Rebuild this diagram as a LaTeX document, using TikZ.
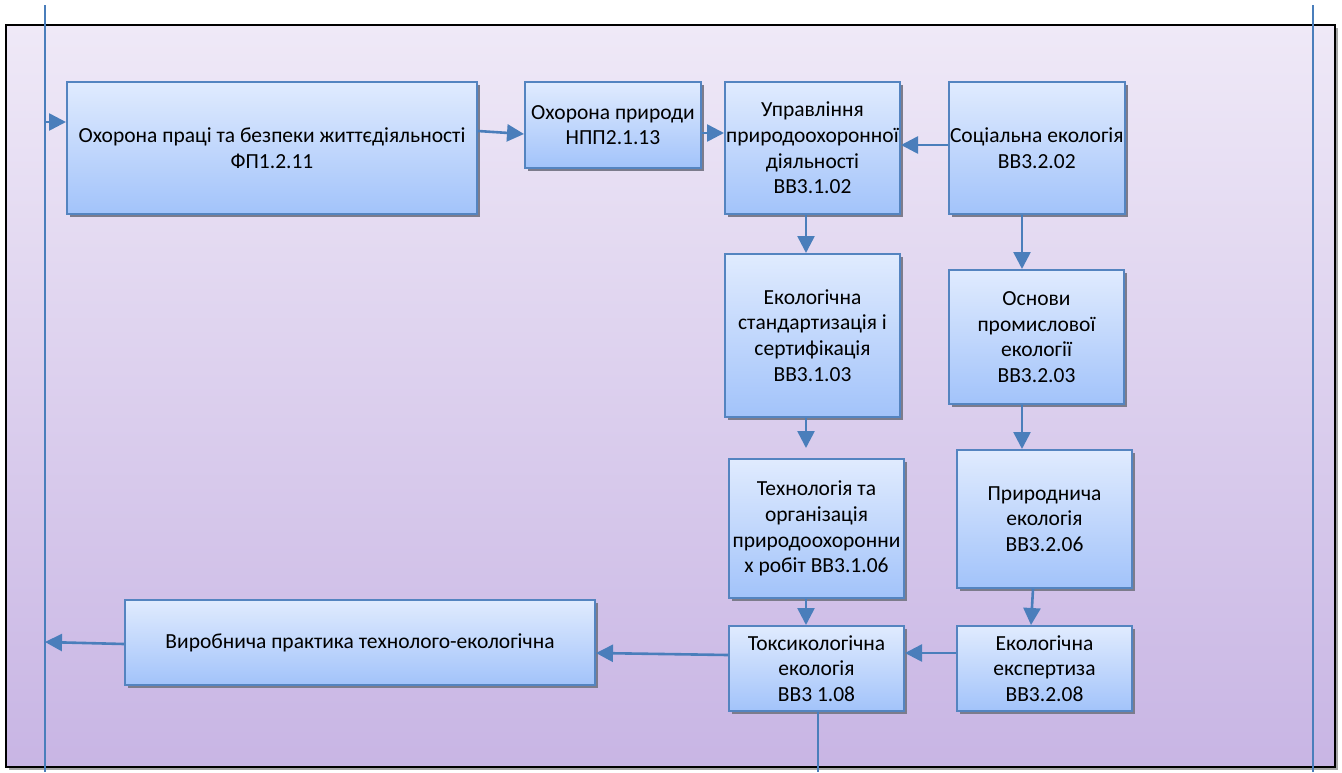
\documentclass[tikz,border=0pt]{standalone}
\usepackage{fontspec}
\setmainfont{Carlito}
\usetikzlibrary{arrows.meta,shadows}
\definecolor{linkblue}{RGB}{74,126,187}
\definecolor{boxedge}{RGB}{84,132,192}
\definecolor{boxtop}{RGB}{224,235,254}
\definecolor{boxbot}{RGB}{162,195,250}
\definecolor{bgtop}{RGB}{239,233,247}
\definecolor{bgbot}{RGB}{200,181,228}
\definecolor{shadowgray}{RGB}{124,124,140}
\tikzset{
  course/.style={draw=boxedge, line width=2pt, top color=boxtop, bottom color=boxbot,
    align=center, inner sep=1pt, anchor=north west, text=black,
    font=\fontsize{21.5}{25.7}\selectfont,
    drop shadow={shadow xshift=3pt, shadow yshift=-3pt, fill=shadowgray, opacity=1}},
  arr/.style={draw=linkblue, line width=2.6pt, -{Triangle[length=17pt,width=17pt]}},
  rail/.style={draw=linkblue, line width=2pt},
}
\begin{document}
\begin{tikzpicture}[x=1pt,y=-1pt]
\useasboundingbox (0,0) rectangle (1342,772);
% framed panel
\fill[gray!70] (9,28) rectangle (1338,770);
\path[top color=bgtop, bottom color=bgbot, draw=black, line width=2.2pt] (6,25) rectangle (1335,767);

% side rails
\coordinate (railLT) at (45,5);
\coordinate (railLB) at (45,772);
\coordinate (railRT) at (1313,5);
\coordinate (railRB) at (1313,772);
\draw[rail] (railLT) -- (railLB);
\draw[rail] (railRT) -- (railRB);

% courses
\node[course, minimum width=410pt, minimum height=132pt] (b1) at (66,81)
  {Охорона праці та безпеки життєдіяльності\\ФП1.2.11};
\node[course, minimum width=176pt, minimum height=86pt] (b2) at (524,81)
  {Охорона природи\\НПП2.1.13};
\node[course, minimum width=175pt, minimum height=132pt] (b3) at (724,81)
  {Управління\\природоохоронної\\діяльності\\ВВ3.1.02};
\node[course, minimum width=175pt, minimum height=132pt] (b4) at (948,81)
  {Соціальна екологія\\ВВ3.2.02};
\node[course, minimum width=175pt, minimum height=163pt] (b5) at (724,253)
  {Екологічна\\стандартизація і\\сертифікація\\ВВ3.1.03};
\node[course, minimum width=175pt, minimum height=134pt] (b6) at (948,269)
  {Основи\\промислової\\екології\\ВВ3.2.03};
\node[course, minimum width=175pt, minimum height=139pt] (b7) at (728,458)
  {Технологія та\\організація\\природоохоронни\\х робіт ВВ3.1.06};
\node[course, minimum width=175pt, minimum height=138pt] (b8) at (956,449)
  {Природнича\\екологія\\ВВ3.2.06};
\node[course, minimum width=470pt, minimum height=85pt] (b9) at (124,599)
  {Виробнича практика технолого-екологічна};
\node[course, minimum width=175pt, minimum height=85pt] (b10) at (728,625)
  {Токсикологічна\\екологія\\ВВ3 1.08};
\node[course, minimum width=175pt, minimum height=85pt] (b11) at (956,625)
  {Екологічна\\експертиза\\ВВ3.2.08};

% links
\coordinate (inL) at (45,122);
\coordinate (outL) at (45,642);
\coordinate (exitB) at (818,772);
\draw[arr] (inL) -- (inL -| b1.west);
\draw[arr] (b1.east |- 0,131) -- (b2.west |- 0,134);
\draw[arr] (b2.east |- 0,133) -- (b3.west |- 0,133);
\draw[arr] (b4.west |- 0,145) -- (b3.east |- 0,145);
\draw[arr] (b3.south -| 806,0) -- (b5.north -| 806,0);
\draw[arr] (b4.south -| 1022,0) -- (b6.north -| 1022,0);
\draw[arr, shorten >=10pt] (b5.south -| 806,0) -- (b7.north -| 806,0);
\draw[arr] (b6.south -| 1022,0) -- (b8.north -| 1022,0);
\draw[arr] (b7.south -| 806,0) -- (b10.north -| 806,0);
\draw[arr] (b8.south -| 1033,0) -- (b11.north -| 1031,0);
\draw[arr] (b11.west |- 0,653) -- (b10.east |- 0,653);
\draw[arr] (b10.west |- 0,655) -- (b9.east |- 0,653);
\draw[arr] (b9.west |- 0,644) -- (outL);
\draw[rail, line width=2.4pt] (b10.south -| exitB) -- (exitB);
\end{tikzpicture}
\end{document}
